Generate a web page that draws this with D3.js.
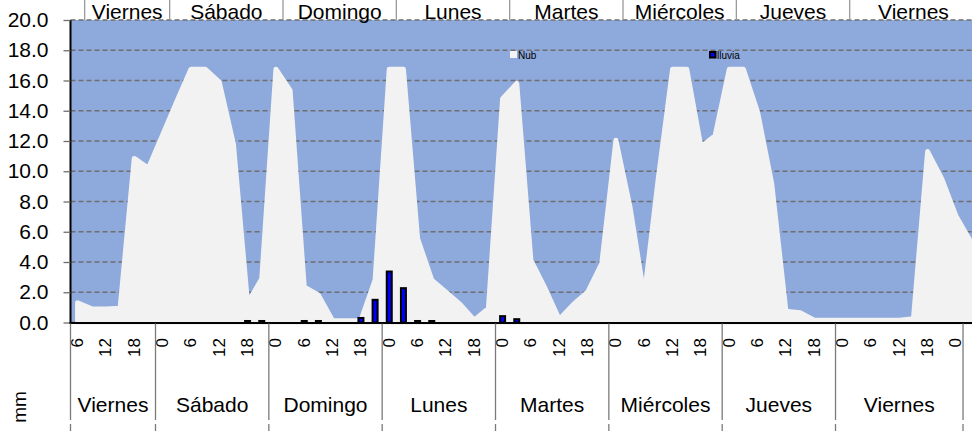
<!DOCTYPE html>
<html><head><meta charset="utf-8">
<script src="https://cdn.jsdelivr.net/npm/d3@7/dist/d3.min.js"></script>
<style>
body{margin:0;background:#fff;overflow:hidden}
svg{display:block}
text{font-family:"Liberation Sans",Arial,sans-serif;fill:#000}
</style>
</head><body>
<svg id="c" width="972" height="431"></svg>
<script>
// ---- data ----
const hours = ["6","9","12","15","18","21",
  "0","3","6","9","12","15","18","21",
  "0","3","6","9","12","15","18","21",
  "0","3","6","9","12","15","18","21",
  "0","3","6","9","12","15","18","21",
  "0","3","6","9","12","15","18","21",
  "0","3","6","9","12","15","18","21",
  "0","3","6","9","12","15","18","21","0","3"];
const dayNames = ["Viernes","Sábado","Domingo","Lunes","Martes","Miércoles","Jueves","Viernes"];
const dayCounts = [6,8,8,8,8,8,8,9];
const topShift = 1;
const nub = [1.3,0.9,0.9,0.95,10.85,10.2,12.4,14.6,
  16.75,16.75,15.9,11.8,1.25,2.9,16.75,15.35,
  2.35,1.8,0.12,0.12,0.12,2.8,16.75,16.75,
  5.55,2.8,2.0,1.2,0.15,0.93,14.8,15.8,
  4.1,2.25,0.2,1.2,2.0,3.9,12.05,7.6,
  1.7,9.6,16.75,16.75,11.6,12.35,16.75,16.75,
  13.9,9.15,0.75,0.65,0.15,0.15,0.15,0.15,
  0.15,0.15,0.15,0.25,11.3,9.5,7.05,5.4];
const lluvia = [0,0,0,0,0,0,0,0,
  0,0,0,0,0.1,0.1,0,0,
  0.1,0.1,0,0,0.3,1.5,3.37,2.27,
  0.1,0.1,0,0,0,0,0.42,0.22,
  0,0,0,0,0,0,0,0,
  0,0,0,0,0,0,0,0,
  0,0,0,0,0,0,0,0,
  0,0,0,0,0,0,0,0];
const yTicks = [0,2,4,6,8,10,12,14,16,18,20];
const legendItems = [{name:"Nub", key:"nub"},{name:"lluvia", key:"lluvia"}];

// ---- layout ----
const svg = d3.select("#c");
const left = 70.5, step = 14.167, n = hours.length;
const x = d3.scaleBand().domain(d3.range(n)).range([left, left + n*step]).paddingInner(0).paddingOuter(0);
const y = d3.scaleLinear().domain([0,20]).range([322.5, 20]);
const cx = i => x(i) + x.bandwidth()/2;
const right = 972;

// background
svg.append("rect").attr("x", left).attr("y", y(20)).attr("width", x.range()[1]-left).attr("height", y(0)-y(20)).attr("fill", "#8EA9DB");

// gridlines
svg.append("g").selectAll("line").data(yTicks).join("line")
  .attr("x1", left).attr("x2", right).attr("y1", d=>y(d)).attr("y2", d=>y(d))
  .attr("stroke", "#6f6f6f").attr("stroke-width", 1.3).attr("stroke-dasharray", "5,3");

// area
const area = d3.area().x((d,i)=>cx(i)).y0(y(0)).y1(d=>y(d));
svg.append("path").datum(nub).attr("d", area)
  .attr("fill", "#F2F2F2").attr("stroke", "#F2F2F2").attr("stroke-width", 5).attr("stroke-linejoin", "round");

// bars
const bw = 5;
svg.append("g").selectAll("rect").data(lluvia.map((v,i)=>({v,i})).filter(d=>d.v>0)).join("rect")
  .attr("x", d=>cx(d.i)-bw/2).attr("width", bw)
  .attr("y", d=>y(d.v)).attr("height", d=>y(0)-y(d.v))
  .attr("fill", "#0000FF").attr("stroke", "#000").attr("stroke-width", 2);

// y axis
const ya = svg.append("g").attr("transform", `translate(${left},0)`)
  .call(d3.axisLeft(y).tickValues(yTicks).tickFormat(d3.format(".1f")).tickSize(7).tickPadding(15));
ya.select(".domain").attr("stroke", "#000").attr("stroke-width", 2).attr("d", `M0,${y(20)}V${y(0)+1}`);
ya.selectAll(".tick line").attr("stroke", "#6f6f6f").attr("stroke-width", 1.3);
ya.selectAll(".tick text").style("font-size", "21px").attr("fill", "#000").attr("font-family", "Liberation Sans, Arial, sans-serif");

// x axis line
svg.append("line").attr("x1", left-1).attr("x2", right).attr("y1", y(0)+0.5).attr("y2", y(0)+0.5)
  .attr("stroke", "#000").attr("stroke-width", 2);

// hour labels (every second category)
svg.append("g").selectAll("text").data(hours.map((h,i)=>({h,i})).filter(d=>d.i%2===0)).join("text")
  .attr("transform", d=>`translate(${cx(d.i)},338) rotate(-90)`)
  .attr("text-anchor", "end").attr("dominant-baseline", "central")
  .style("font-size", "17px").text(d=>d.h);

// day groups
let starts = []; let s = 0;
dayCounts.forEach(c => { starts.push(s); s += c; });
const groups = dayNames.map((nm,k)=>({nm, start:starts[k], count:dayCounts[k]}));
const gx0 = g => x(g.start), gx1 = g => x(g.start) + g.count*step;

// bottom separators
const bsep = groups.map(g=>gx0(g)).concat([gx1(groups[groups.length-1])]);
svg.append("g").selectAll("line").data(bsep).join("line")
  .attr("x1", d=>d).attr("x2", d=>d).attr("y1", y(0)+1).attr("y2", 420)
  .attr("stroke", "#7a7a7a").attr("stroke-width", 1.3);
svg.append("g").selectAll("line").data(bsep).join("line")
  .attr("x1", d=>d).attr("x2", d=>d).attr("y1", 424).attr("y2", 431)
  .attr("stroke", "#7a7a7a").attr("stroke-width", 1.3);
svg.append("g").selectAll("text").data(groups).join("text")
  .attr("x", g=>(gx0(g)+gx1(g))/2).attr("y", 412).attr("text-anchor", "middle")
  .style("font-size", "21px").text(g=>g.nm);

// top groups (shifted by one category)
const tgroups = groups.map(g=>({nm:g.nm, start:g.start+topShift, count:g.count}));
const tsep = tgroups.map(g=>gx0(g));
svg.append("g").selectAll("line").data(tsep).join("line")
  .attr("x1", d=>d).attr("x2", d=>d).attr("y1", 0).attr("y2", y(20))
  .attr("stroke", "#9a9a9a").attr("stroke-width", 1.3);
svg.append("g").selectAll("text").data(tgroups).join("text")
  .attr("x", g=>(gx0(g)+gx1(g))/2).attr("y", 18.5).attr("text-anchor", "middle")
  .style("font-size", "21px").text(g=>g.nm);

// mm label
svg.append("text").attr("transform", "translate(19,407) rotate(-90)")
  .attr("text-anchor", "middle").attr("dominant-baseline", "central")
  .style("font-size", "19px").text("mm");

// legend
const legPos = {nub:[510,51], lluvia:[709,51]};
legendItems.forEach(it => {
  const [lx, ly] = legPos[it.key];
  const g = svg.append("g");
  if (it.key === "nub") {
    g.append("rect").attr("x", lx).attr("y", ly).attr("width", 7).attr("height", 7).attr("fill", "#F4F4F4");
  } else {
    g.append("rect").attr("x", lx+1).attr("y", ly+1).attr("width", 5.5).attr("height", 5.5).attr("fill", "#0000FF").attr("stroke", "#000").attr("stroke-width", 2);
  }
  g.append("text").attr("x", lx+8).attr("y", ly+7.5).style("font-size", "10px").attr("fill", "#1a1a1a").text(it.name);
});
</script>
</body></html>
